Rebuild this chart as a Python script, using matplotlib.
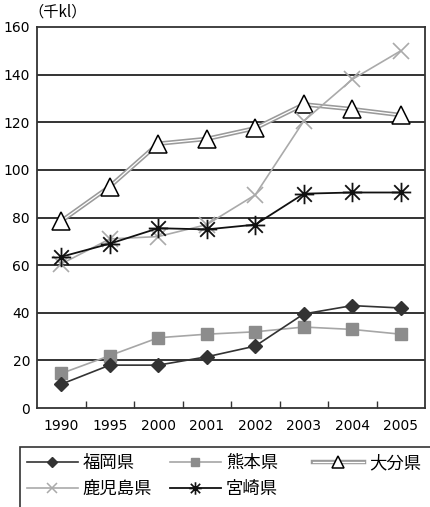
import matplotlib
matplotlib.use("Agg")
import matplotlib.pyplot as plt
from matplotlib.path import Path
from matplotlib.lines import Line2D
from matplotlib.patches import Rectangle
from matplotlib.legend_handler import HandlerTuple

plt.rcParams['font.family'] = ['Noto Sans CJK JP', 'DejaVu Sans']

years = ["1990", "1995", "2000", "2001", "2002", "2003", "2004", "2005"]
fukuoka = [10, 18, 18, 21.5, 26, 39.5, 43, 42]
kumamoto = [14.5, 22, 29.5, 31, 32, 34, 33, 31]
oita = [78.5, 93, 111, 113, 117.5, 127.5, 125.5, 123]
kagoshima = [60.5, 71, 72, 77, 89.5, 120.5, 138, 150]
miyazaki = [63.5, 69, 75.5, 75, 77, 90, 90.5, 90.5]
yticks = [0, 20, 40, 60, 80, 100, 120, 140, 160]
unit = "（千kl）"
names = ["福岡県", "熊本県", "大分県", "鹿児島県", "宮崎県"]

W, H = 430, 507
fig = plt.figure(figsize=(W / 100, H / 100), dpi=100)
ax = fig.add_axes([37/W, 1-408/H, (425-37)/W, (408-27)/H])

x = list(range(len(years)))

for v in yticks[1:-1]:
    ax.axhline(v, color='#333333', lw=1.4, zorder=1)

ast = Path([(-1, 0), (1, 0), (0, -1), (0, 1), (-0.75, -0.75), (0.75, 0.75), (-0.75, 0.75), (0.75, -0.75)],
           [Path.MOVETO, Path.LINETO] * 4)

ax.plot(x, fukuoka, color='#333333', lw=1.2, marker='D', ms=7, mfc='#333333', mec='#333333', zorder=5)
ax.plot(x, kumamoto, color='#a6a6a6', lw=1.2, marker='s', ms=8, mfc='#8c8c8c', mec='#8c8c8c', zorder=4)
ax.plot(x, oita, color='#9a9a9a', lw=3.2, zorder=3)
ax.plot(x, oita, color='white', lw=0.9, marker='^', ms=13, mfc='white', mec='black', mew=1.1, zorder=3)
ax.plot(x, kagoshima, color='#aaaaaa', lw=1.2, marker='x', ms=12, mec='#aaaaaa', mew=1.2, zorder=3)
ax.plot(x, miyazaki, color='#111111', lw=1.3, marker=ast, ms=14, mec='#111111', mew=1.3, zorder=6)

ax.set_xlim(-0.5, len(years) - 0.5)
ax.set_ylim(0, 160)
ax.set_yticks(yticks)
ax.tick_params(axis='y', length=0, labelsize=10, pad=5)
ax.set_xticks([i + 0.5 for i in range(len(years) - 1)])
ax.set_xticklabels([])
ax.set_xticks(x, minor=True)
ax.set_xticklabels(years, minor=True)
ax.tick_params(axis='x', which='major', direction='in', length=5, width=1, color='#333333')
ax.tick_params(axis='x', which='minor', length=0, labelsize=10, pad=8)
for lab in ax.get_xticklabels(minor=True) + ax.get_yticklabels():
    lab.set_family('DejaVu Sans')
for s in ax.spines.values():
    s.set_color('#333333')
    s.set_linewidth(1.3)

fig.text(28/W, 1-12/H, unit, fontsize=11, va='center', ha='left')

# legend proxies (smaller markers, same styles)
l1 = Line2D([], [], color='#333333', lw=1.2, marker='D', ms=5, mfc='#333333', mec='#333333')
l2 = Line2D([], [], color='#a6a6a6', lw=1.2, marker='s', ms=5.5, mfc='#8c8c8c', mec='#8c8c8c')
l3a = Line2D([], [], color='#9a9a9a', lw=3.2)
l3b = Line2D([], [], color='white', lw=0.9, marker='^', ms=9, mfc='white', mec='black', mew=1.1)
l4 = Line2D([], [], color='#aaaaaa', lw=1.2, marker='x', ms=7, mec='#aaaaaa', mew=1.1)
l5 = Line2D([], [], color='#111111', lw=1.3, marker=ast, ms=9, mec='#111111', mew=1.2)

frame = Rectangle((20/W, -0.02), 1.0, (1-447/H) + 0.02, transform=fig.transFigure,
                  fill=False, edgecolor='#333333', lw=1.2, clip_on=False)
fig.patches.append(frame)

cols = [([l1, l4], [names[0], names[3]], 22),
        ([l2, l5], [names[1], names[4]], 165),
        ([(l3a, l3b)], [names[2]], 308)]
for hs, ls, x0 in cols:
    lg = fig.legend(hs, ls, ncol=1, loc='upper left',
                    bbox_to_anchor=(x0/W, 1-449/H), fontsize=12.5,
                    handlelength=2.9, handletextpad=0.3,
                    labelspacing=0.45, borderpad=0.3, borderaxespad=0,
                    frameon=False,
                    handler_map={tuple: HandlerTuple(ndivide=1)})

fig.savefig("out.png", dpi=100)
